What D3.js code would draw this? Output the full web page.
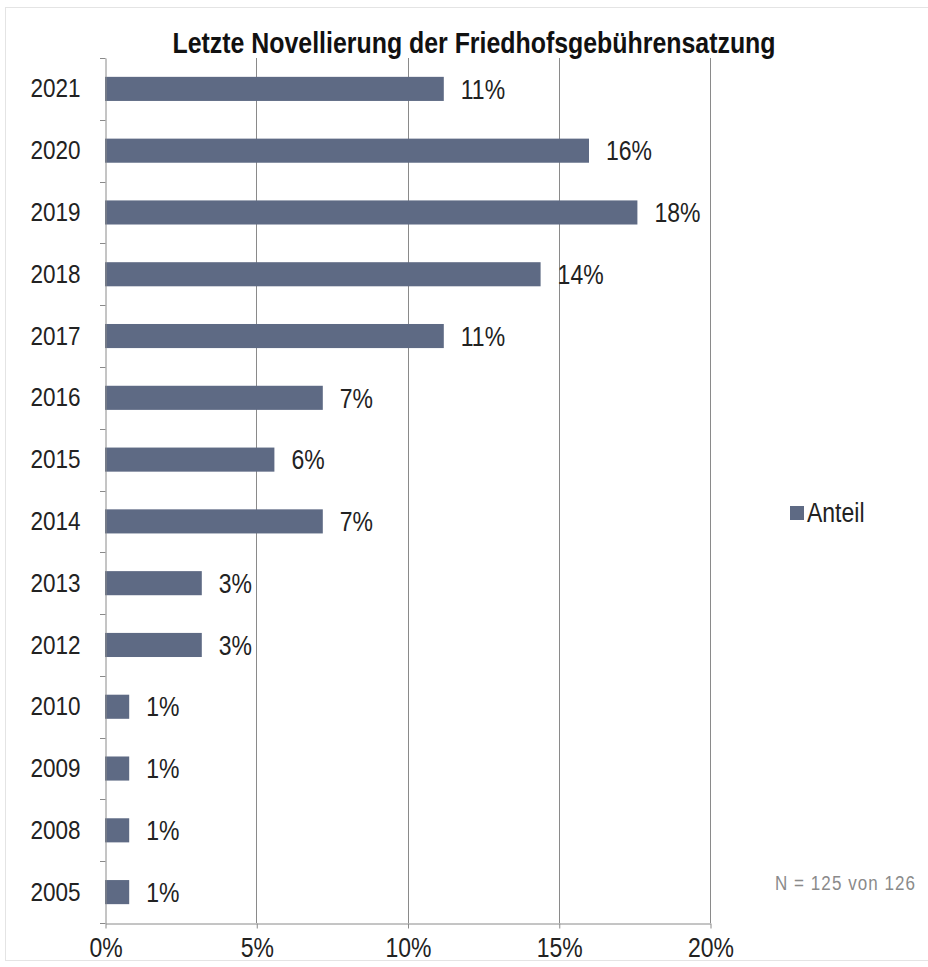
<!DOCTYPE html>
<html><head><meta charset="utf-8">
<script src="https://cdn.jsdelivr.net/npm/d3@7"></script>
<style>
body{margin:0;background:#fff}svg{display:block}
text{font-family:"Liberation Sans",Arial,sans-serif;transform-box:fill-box;transform-origin:center;transform:scaleY(1.17)}
</style>
</head><body>
<script>
const years = ["2021","2020","2019","2018","2017","2016","2015","2014","2013","2012","2010","2009","2008","2005"];
const anteil = [11.2,16.0,17.6,14.4,11.2,7.2,5.6,7.2,3.2,3.2,0.8,0.8,0.8,0.8];
const valueLabels = ["11%","16%","18%","14%","11%","7%","6%","7%","3%","3%","1%","1%","1%","1%"];
const xTicks = [0,5,10,15,20];
const title = "Letzte Novellierung  der Friedhofsgebührensatzung";
const seriesName = "Anteil";
const note = "N = 125 von  126";

const W = 928, H = 967;
const m = {left:105, right:218, top:58, bottom:44};
const svg = d3.select("body").append("svg").attr("width",W).attr("height",H);

svg.append("rect").attr("x",5.5).attr("y",7.5).attr("width",W).attr("height",953)
  .attr("fill","none").attr("stroke","#e4e4e4");

const x = d3.scaleLinear().domain([0,20]).range([m.left, W-m.right]);
const y = d3.scaleBand().domain(years).range([m.top, H-m.bottom]).paddingInner(0.61).paddingOuter(0.305);
const yb = d3.scaleBand().domain(years).range([m.top, H-m.bottom]);

// gridlines
svg.append("g").selectAll("line").data(xTicks.slice(1)).join("line")
  .attr("x1",d=>Math.round(x(d))+0.5).attr("x2",d=>Math.round(x(d))+0.5)
  .attr("y1",m.top).attr("y2",H-m.bottom).attr("stroke","#8a8a8a").attr("stroke-width",1);

// bars
svg.append("g").selectAll("rect").data(years).join("rect")
  .attr("x",x(0)).attr("y",(d)=>y(d)).attr("height",y.bandwidth())
  .attr("width",(d,i)=>x(anteil[i])-x(0)).attr("fill","#5e6a84");

// value labels
svg.append("g").selectAll("text").data(years).join("text")
  .attr("x",(d,i)=>x(anteil[i])+17).attr("y",d=>y(d)+y.bandwidth()/2)
  .attr("dy","0.36em").attr("font-size",23).attr("fill","#222")
  .text((d,i)=>valueLabels[i]);

// y axis
const yAxis = d3.axisLeft(yb).tickSize(0).tickPadding(25);
const gy = svg.append("g").attr("transform",`translate(${m.left+0.5},0)`).call(yAxis);
gy.select(".domain").attr("stroke","#8a8a8a");
gy.selectAll("text").attr("font-size",22.5).attr("fill","#222").attr("font-family","Liberation Sans, Arial, sans-serif");
// band boundary ticks
const bounds = years.map(d=>yb(d)).concat([H-m.bottom]);
svg.append("g").selectAll("line").data(bounds).join("line")
  .attr("x1",m.left-5).attr("x2",m.left+0.5).attr("y1",d=>Math.round(d)+0.5).attr("y2",d=>Math.round(d)+0.5)
  .attr("stroke","#8a8a8a");

// x axis
const xAxis = d3.axisBottom(x).tickValues(xTicks).tickFormat(d=>d+"%").tickSize(5).tickPadding(11).tickSizeOuter(0);
const gx = svg.append("g").attr("transform",`translate(0.5,${H-m.bottom+0.5})`).call(xAxis);
gx.select(".domain").attr("stroke","#8a8a8a");
gx.selectAll(".tick line").attr("stroke","#8a8a8a");
gx.selectAll("text").attr("font-size",23).attr("fill","#222").attr("font-family","Liberation Sans, Arial, sans-serif");

// title
svg.append("text").attr("x",474).attr("y",52).attr("text-anchor","middle")
  .attr("font-size",25).attr("font-weight","bold").attr("fill","#111")
  .attr("textLength",603).attr("lengthAdjust","spacingAndGlyphs").text(title);

// legend
svg.append("rect").attr("x",790).attr("y",506).attr("width",14).attr("height",14).attr("fill","#5e6a84");
svg.append("text").attr("x",807).attr("y",521).attr("font-size",23).attr("fill","#222").text(seriesName);

// note
svg.append("text").attr("x",775).attr("y",889).attr("font-size",17).attr("fill","#8a8a8a")
  .attr("textLength",140).attr("lengthAdjust","spacing").text(note);
</script>
</body></html>
